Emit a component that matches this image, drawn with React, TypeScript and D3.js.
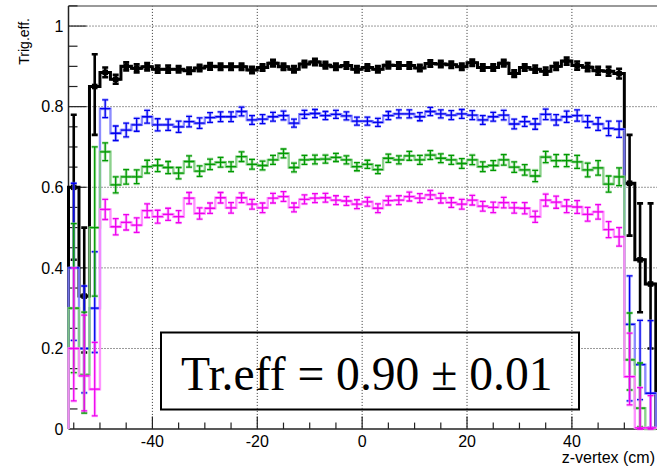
import React from "react";
import * as d3 from "d3";

// Bin centres of the z-vertex histogram (cm), bin width 2 cm
const binCenters = [
  -55, -53, -51, -49, -47, -45, -43, -41, -39, -37, -35, -33, -31, -29, -27, -25, -23, -21, -19, -17, -15, -13, -11, -9, -7, -5, -3, -1,
  1, 3, 5, 7, 9, 11, 13, 15, 17, 19, 21, 23, 25, 27, 29, 31, 33, 35, 37, 39, 41, 43, 45, 47, 49, 51, 53, 55,
];
const binWidth = 2;

const xTicksMajor = [-40, -20, 0, 20, 40];
const yTicksMajor = [0, 0.2, 0.4, 0.6, 0.8, 1];
const yTickLabels = ["0", "0.2", "0.4", "0.6", "0.8", "1"];

// Black series
const blackEff = [
  0.6, 0.33, 0.85,
  0.885, 0.868, 0.9, 0.895, 0.899, 0.893, 0.893, 0.893, 0.889, 0.896, 0.9, 0.899, 0.899, 0.899, 0.891, 0.897, 0.908, 0.899, 0.893, 0.906, 0.911, 0.903, 0.899, 0.902, 0.893,
  0.897, 0.893, 0.903, 0.902, 0.902, 0.896, 0.907, 0.906, 0.904, 0.899, 0.909, 0.897, 0.897, 0.908, 0.882, 0.897, 0.893, 0.888, 0.9, 0.913, 0.902, 0.898, 0.889, 0.888, 0.882,
  0.61, 0.42, 0.36,
];
const blackErrLo = [
  0.18, 0.14, 0.12,
  0.012, 0.011, 0.01, 0.01, 0.009, 0.009, 0.009, 0.008, 0.008, 0.008, 0.008, 0.008, 0.008, 0.008, 0.008, 0.008, 0.008, 0.008, 0.008, 0.008, 0.008, 0.008, 0.008, 0.008, 0.008,
  0.008, 0.008, 0.008, 0.008, 0.008, 0.008, 0.008, 0.008, 0.008, 0.008, 0.008, 0.008, 0.008, 0.008, 0.008, 0.008, 0.009, 0.009, 0.009, 0.009, 0.01, 0.01, 0.01, 0.011, 0.012,
  0.13, 0.13, 0.16,
];
const blackErrHi = [
  0.18, 0.17, 0.08,
  0.012, 0.011, 0.01, 0.01, 0.009, 0.009, 0.009, 0.008, 0.008, 0.008, 0.008, 0.008, 0.008, 0.008, 0.008, 0.008, 0.008, 0.008, 0.008, 0.008, 0.008, 0.008, 0.008, 0.008, 0.008,
  0.008, 0.008, 0.008, 0.008, 0.008, 0.008, 0.008, 0.008, 0.008, 0.008, 0.008, 0.008, 0.008, 0.008, 0.008, 0.008, 0.009, 0.009, 0.009, 0.009, 0.01, 0.01, 0.01, 0.011, 0.012,
  0.12, 0.14, 0.2,
];

// Blue series
const blueEff = [
  0.4, 0.2, 0.3,
  0.795, 0.734, 0.742, 0.755, 0.775, 0.755, 0.755, 0.75, 0.763, 0.759, 0.773, 0.775, 0.775, 0.788, 0.767, 0.769, 0.775, 0.778, 0.759, 0.781, 0.783, 0.778, 0.781, 0.777, 0.764,
  0.764, 0.761, 0.778, 0.782, 0.782, 0.775, 0.788, 0.782, 0.779, 0.782, 0.779, 0.767, 0.775, 0.779, 0.757, 0.763, 0.757, 0.781, 0.767, 0.775, 0.778, 0.763, 0.757, 0.746, 0.744,
  0.26, 0.16, 0.089,
];
const blueErrLo = [
  0.18, 0.11, 0.11,
  0.022, 0.018, 0.017, 0.016, 0.016, 0.015, 0.014, 0.014, 0.013, 0.013, 0.012, 0.012, 0.012, 0.011, 0.011, 0.011, 0.011, 0.011, 0.01, 0.01, 0.01, 0.01, 0.01, 0.01, 0.01,
  0.01, 0.01, 0.01, 0.01, 0.01, 0.01, 0.01, 0.01, 0.011, 0.011, 0.011, 0.011, 0.011, 0.012, 0.012, 0.012, 0.013, 0.013, 0.013, 0.014, 0.014, 0.015, 0.016, 0.018, 0.02,
  0.19, 0.087, 0.085,
];
const blueErrHi = [
  0.21, 0.155, 0.14,
  0.022, 0.018, 0.017, 0.016, 0.016, 0.015, 0.014, 0.014, 0.013, 0.013, 0.012, 0.012, 0.012, 0.011, 0.011, 0.011, 0.011, 0.011, 0.01, 0.01, 0.01, 0.01, 0.01, 0.01, 0.01,
  0.01, 0.01, 0.01, 0.01, 0.01, 0.01, 0.01, 0.01, 0.011, 0.011, 0.011, 0.011, 0.011, 0.012, 0.012, 0.012, 0.013, 0.013, 0.013, 0.014, 0.014, 0.015, 0.016, 0.018, 0.02,
  0.12, 0.11, 0.18,
];

// Green series
const greenEff = [
  0.3, 0.135, 0.5,
  0.688, 0.606, 0.626, 0.626, 0.651, 0.654, 0.649, 0.635, 0.664, 0.64, 0.657, 0.662, 0.651, 0.676, 0.657, 0.654, 0.668, 0.684, 0.649, 0.668, 0.669, 0.67, 0.674, 0.668, 0.651,
  0.657, 0.644, 0.672, 0.668, 0.678, 0.668, 0.68, 0.672, 0.668, 0.659, 0.668, 0.651, 0.654, 0.668, 0.65, 0.643, 0.628, 0.675, 0.666, 0.666, 0.663, 0.643, 0.648, 0.608, 0.626,
  0.172, 0.052, 0,
];
const greenErrLo = [
  0.16, 0.095, 0.17,
  0.022, 0.02, 0.018, 0.017, 0.016, 0.015, 0.015, 0.014, 0.014, 0.013, 0.013, 0.012, 0.012, 0.012, 0.012, 0.011, 0.011, 0.011, 0.011, 0.011, 0.011, 0.01, 0.01, 0.01, 0.01,
  0.01, 0.01, 0.01, 0.01, 0.011, 0.011, 0.011, 0.011, 0.011, 0.012, 0.012, 0.012, 0.012, 0.013, 0.013, 0.013, 0.014, 0.014, 0.015, 0.015, 0.016, 0.017, 0.018, 0.02, 0.022,
  0.075, 0.046, 0,
];
const greenErrHi = [
  0.21, 0.155, 0.2,
  0.022, 0.02, 0.018, 0.017, 0.016, 0.015, 0.015, 0.014, 0.014, 0.013, 0.013, 0.012, 0.012, 0.012, 0.012, 0.011, 0.011, 0.011, 0.011, 0.011, 0.011, 0.01, 0.01, 0.01, 0.01,
  0.01, 0.01, 0.01, 0.01, 0.011, 0.011, 0.011, 0.011, 0.011, 0.012, 0.012, 0.012, 0.012, 0.013, 0.013, 0.013, 0.014, 0.014, 0.015, 0.015, 0.016, 0.017, 0.018, 0.02, 0.022,
  0.116, 0.112, 0,
];

// Magenta series
const magentaEff = [
  0.2, 0.132, 0.099,
  0.545, 0.502, 0.513, 0.506, 0.542, 0.527, 0.533, 0.527, 0.573, 0.535, 0.548, 0.574, 0.549, 0.574, 0.558, 0.549, 0.573, 0.577, 0.55, 0.57, 0.573, 0.574, 0.568, 0.566, 0.558,
  0.564, 0.548, 0.567, 0.568, 0.577, 0.573, 0.581, 0.573, 0.562, 0.558, 0.568, 0.553, 0.55, 0.562, 0.549, 0.548, 0.527, 0.568, 0.563, 0.553, 0.551, 0.533, 0.539, 0.495, 0.477,
  0.13, 0.003, 0.003,
];
const magentaErrLo = [
  0.13, 0.087, 0.066,
  0.025, 0.02, 0.019, 0.018, 0.017, 0.016, 0.015, 0.015, 0.014, 0.014, 0.013, 0.013, 0.013, 0.012, 0.012, 0.012, 0.012, 0.012, 0.011, 0.011, 0.011, 0.011, 0.011, 0.011, 0.011,
  0.011, 0.011, 0.011, 0.011, 0.011, 0.011, 0.011, 0.012, 0.012, 0.012, 0.012, 0.012, 0.013, 0.013, 0.013, 0.014, 0.014, 0.015, 0.015, 0.016, 0.016, 0.017, 0.018, 0.02, 0.023,
  0.07, 0.003, 0.003,
];
const magentaErrHi = [
  0.2, 0.151, 0.116,
  0.025, 0.02, 0.019, 0.018, 0.017, 0.016, 0.015, 0.015, 0.014, 0.014, 0.013, 0.013, 0.013, 0.012, 0.012, 0.012, 0.012, 0.012, 0.011, 0.011, 0.011, 0.011, 0.011, 0.011, 0.011,
  0.011, 0.011, 0.011, 0.011, 0.011, 0.011, 0.011, 0.012, 0.012, 0.012, 0.012, 0.012, 0.013, 0.013, 0.013, 0.014, 0.014, 0.015, 0.015, 0.016, 0.016, 0.017, 0.018, 0.02, 0.023,
  0.108, 0.1, 0.08,
];

const W = 657;
const H = 468;
const left = 68.5;
const right = 655.8;
const top = 5.9;
const bottom = 429.1;

const x = d3.scaleLinear().domain([-56, 56]).range([left, right]);
const y = d3.scaleLinear().domain([0, 1.05]).range([bottom, top]);

type Series = {
  eff: number[];
  lo: number[];
  hi: number[];
  dark: string;
  light: string;
  black?: boolean;
};

const seriesList: Series[] = [
  { eff: blackEff, lo: blackErrLo, hi: blackErrHi, dark: "#000000", light: "#000000", black: true },
  { eff: blueEff, lo: blueErrLo, hi: blueErrHi, dark: "#0000ee", light: "#8080ff" },
  { eff: greenEff, lo: greenErrLo, hi: greenErrHi, dark: "#009a00", light: "#7fcc7f" },
  { eff: magentaEff, lo: magentaErrLo, hi: magentaErrHi, dark: "#ee00ee", light: "#ff88ff" },
];

function stepPath(eff: number[]): string {
  const pts: [number, number][] = [];
  pts.push([x(binCenters[0] - binWidth / 2), y(0)]);
  eff.forEach((v, i) => {
    pts.push([x(binCenters[i] - binWidth / 2), y(v)]);
    pts.push([x(binCenters[i] + binWidth / 2), y(v)]);
  });
  pts.push([x(binCenters[binCenters.length - 1] + binWidth / 2), y(0)]);
  return d3.line()(pts) || "";
}

function ErrorBars({ s }: { s: Series }) {
  const cap = 3;
  const items = s.eff.map((v, i) => {
    if (s.lo[i] === 0 && s.hi[i] === 0) return null;
    const cx = x(binCenters[i]);
    const x0 = x(binCenters[i] - binWidth / 2);
    const x1 = x(binCenters[i] + binWidth / 2);
    const yLo = y(Math.max(0, v - s.lo[i]));
    const yHi = y(v + s.hi[i]);
    const yv = y(v);
    const d = `M${cx},${yLo}L${cx},${yHi}M${cx - cap},${yLo}L${cx + cap},${yLo}M${cx - cap},${yHi}L${cx + cap},${yHi}M${x0},${yv}L${x1},${yv}`;
    return (
      <g key={i}>
        {s.black ? (
          <>
            <path d={d} stroke="#000" strokeWidth={2.6} fill="none" />
            <rect x={cx - 2.8} y={yv - 2.8} width={5.6} height={5.6} fill="#000" />
          </>
        ) : (
          <>
            <path d={d} stroke={s.light} strokeWidth={3} fill="none" opacity={0.55} />
            <path d={d} stroke={s.dark} strokeWidth={1.3} fill="none" />
          </>
        )}
      </g>
    );
  });
  return <g>{items}</g>;
}

export default function App() {
  const yMinor: number[] = [];
  for (let k = 1; k <= 21; k++) yMinor.push(k * 0.05);
  const xMinor: number[] = [];
  for (let k = -11; k <= 11; k++) xMinor.push(k * 5);
  const fontSans = "'Liberation Sans', Arial, Helvetica, sans-serif";

  return (
    <svg
      width={W}
      height={H}
      style={{ position: "absolute", left: 0, top: 0, background: "#fff" }}
      xmlns="http://www.w3.org/2000/svg"
    >
      <rect x={0} y={0} width={W} height={H} fill="#fff" />
      {/* horizontal grid */}
      {yTicksMajor.filter((t) => t > 0).map((t) => (
        <line key={"hg" + t} x1={left} x2={W} y1={y(t)} y2={y(t)} stroke="#333" strokeWidth={1} strokeDasharray="1,2" />
      ))}
      {/* text box */}
      <rect x={161} y={332.5} width={418} height={77} fill="#fff" stroke="#000" strokeWidth={2} />
      {/* vertical grid */}
      {xTicksMajor.map((t) => (
        <line key={"vg" + t} x1={x(t)} x2={x(t)} y1={top} y2={bottom} stroke="#333" strokeWidth={1} strokeDasharray="1,2" />
      ))}
      {/* frame */}
      <line x1={left} x2={W} y1={top} y2={top} stroke="#777" strokeWidth={1.5} />
      <line x1={left} x2={left} y1={top} y2={bottom} stroke="#222" strokeWidth={1.5} />
      <line x1={left} x2={W} y1={bottom} y2={bottom} stroke="#222" strokeWidth={1.5} />
      {/* y ticks */}
      {yMinor.map((t) => {
        const major = Math.abs(t * 5 - Math.round(t * 5)) < 1e-6;
        return (
          <line key={"yt" + t} x1={left} x2={left + (major ? 18 : 9)} y1={y(t)} y2={y(t)} stroke="#222" strokeWidth={1.2} />
        );
      })}
      {/* x ticks */}
      {xMinor.map((t) => {
        const major = t % 20 === 0;
        return (
          <line key={"xt" + t} x1={x(t)} x2={x(t)} y1={bottom} y2={bottom - (major ? 12.7 : 6.5)} stroke="#222" strokeWidth={1.2} />
        );
      })}
      {/* y tick labels */}
      {yTicksMajor.map((t, i) => (
        <text key={"yl" + t} x={63.5} y={y(t)} dy="0.36em" textAnchor="end" fontFamily={fontSans} fontSize={16} fill="#000">
          {yTickLabels[i]}
        </text>
      ))}
      {/* x tick labels */}
      {xTicksMajor.map((t) => (
        <text key={"xl" + t} x={x(t)} y={447} textAnchor="middle" fontFamily={fontSans} fontSize={16} fill="#000">
          {t}
        </text>
      ))}
      {/* axis titles */}
      <text transform="translate(29,18) rotate(-90)" textAnchor="end" fontFamily={fontSans} fontSize={14} fill="#000">
        Trig.eff.
      </text>
      <text x={655} y={463} textAnchor="end" fontFamily={fontSans} fontSize={16} fill="#000">
        z-vertex (cm)
      </text>
      {/* series */}
      {seriesList.map((s, i) => (
        <g key={"s" + i}>
          <path
            d={stepPath(s.eff)}
            fill="none"
            stroke={s.black ? "#000" : s.light}
            strokeWidth={s.black ? 3 : 2.4}
            opacity={s.black ? 1 : 0.9}
          />
          <ErrorBars s={s} />
        </g>
      ))}
      {/* efficiency text */}
      <text x={181} y={390} fontFamily="'Liberation Serif', 'Times New Roman', serif" fontSize={47.6} fill="#000">
        Tr.eff = 0.90 ± 0.01
      </text>
    </svg>
  );
}
